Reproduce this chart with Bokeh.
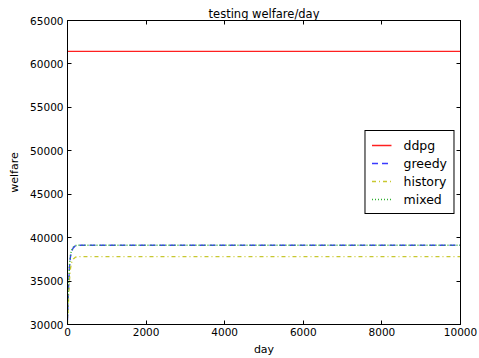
from bokeh.plotting import figure
from bokeh.models import LinearAxis, FixedTicker, Legend, Range1d
from bokeh.embed import file_html
from bokeh.resources import INLINE

# --- data ---
ddpg_days = [0, 10000]
ddpg_welfare = [61450, 61450]

greedy_days = [0, 25, 50, 75, 100, 150, 200, 300, 10000]
greedy_welfare = [30500, 34200, 36600, 37800, 38400, 38850, 39050, 39120, 39120]

history_days = [0, 25, 50, 75, 100, 150, 200, 300, 10000]
history_welfare = [30000, 32800, 35100, 36400, 37100, 37550, 37750, 37820, 37820]

mixed_days = [0, 25, 50, 75, 100, 150, 200, 300, 10000]
mixed_welfare = [31000, 34600, 36900, 37950, 38500, 38900, 39080, 39130, 39130]

x_ticks = [0, 2000, 4000, 6000, 8000, 10000]
y_ticks = [30000, 35000, 40000, 45000, 50000, 55000, 60000, 65000]

FONT = "DejaVu Sans"

p = figure(width=479, height=358, output_backend="svg", toolbar_location=None,
           x_range=Range1d(0, 10000), y_range=Range1d(30000, 65000),
           title="testing welfare/day", min_border_left=67, min_border_right=19,
           min_border_top=20, min_border_bottom=32)
p.title.align = "center"
p.title.text_font = FONT
p.title.text_font_size = "11.5px"
p.title.text_font_style = "normal"
p.title.text_color = "black"
p.title.standoff = 0
p.title.offset = 0

p.xgrid.visible = False
p.ygrid.visible = False
p.outline_line_color = "black"
p.outline_line_width = 1
p.outline_line_alpha = 1
p.background_fill_color = "white"
p.border_fill_color = "white"

r_ddpg = p.line(ddpg_days, ddpg_welfare, line_color="#ff2020", line_width=1.4)
r_greedy = p.line(greedy_days, greedy_welfare, line_color="#3a3aff",
                  line_width=1.4, line_dash="6 4")
r_history = p.line(history_days, history_welfare, line_color="#c8c830",
                   line_width=1.3, line_dash="4 3 1 3")
r_mixed = p.line(mixed_days, mixed_welfare, line_color="#30b030",
                 line_width=1.5, line_dash="1 2")

def style_axis(ax):
    ax.major_tick_in = 4
    ax.major_tick_out = 0
    ax.minor_tick_in = 0
    ax.minor_tick_out = 0
    ax.axis_line_color = "black"
    ax.major_tick_line_color = "black"
    ax.major_label_text_font = FONT
    ax.major_label_text_font_size = "10.5px"
    ax.major_label_text_color = "black"
    ax.axis_label_text_font = FONT
    ax.axis_label_text_font_size = "11px"
    ax.axis_label_text_font_style = "normal"
    ax.axis_label_text_color = "black"
    ax.major_label_standoff = 3
    ax.axis_label_standoff = 4

xa = p.xaxis[0]
xa.ticker = FixedTicker(ticks=x_ticks)
xa.axis_label = "day"
style_axis(xa)
ya = p.yaxis[0]
ya.ticker = FixedTicker(ticks=y_ticks)
ya.axis_label = "welfare"
style_axis(ya)
ya.major_label_standoff = 4
ya.axis_label_standoff = 6

top = LinearAxis(ticker=FixedTicker(ticks=x_ticks))
style_axis(top)
top.major_label_overrides = {t: "" for t in x_ticks}
top.major_label_standoff = 0
p.add_layout(top, "above")
right = LinearAxis(ticker=FixedTicker(ticks=y_ticks))
style_axis(right)
right.major_label_overrides = {t: "" for t in y_ticks}
right.major_label_standoff = 0
p.add_layout(right, "right")

legend = Legend(items=[("ddpg", [r_ddpg]), ("greedy", [r_greedy]),
                       ("history", [r_history]), ("mixed", [r_mixed])],
                location="center_right")
legend.label_text_font = FONT
legend.label_text_font_size = "12.5px"
legend.label_text_color = "black"
legend.border_line_color = "black"
legend.border_line_width = 1
legend.border_line_alpha = 1
legend.background_fill_alpha = 1
legend.glyph_width = 20
legend.glyph_height = 16
legend.label_height = 16
legend.label_standoff = 12
legend.spacing = 2
legend.padding = 6
legend.margin = 6
p.add_layout(legend, "center")

open("out.html", "w").write(file_html(p, INLINE))
